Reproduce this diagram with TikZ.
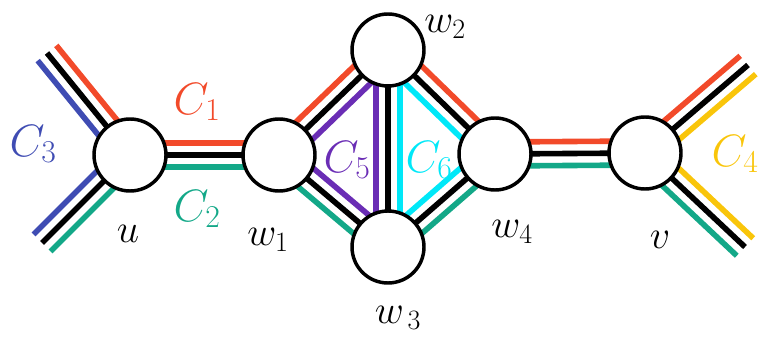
\RequirePackage{fix-cm}
\documentclass[tikz,border=0pt]{standalone}
\usepackage{tikz}
\usetikzlibrary{calc, backgrounds}
\definecolor{PathRed}{HTML}{F24A2A}
\definecolor{PathGreen}{HTML}{13A888}
\definecolor{PathBlue}{HTML}{3F4CB3}
\definecolor{PathPurple}{HTML}{6A2DB5}
\definecolor{PathCyan}{HTML}{00E8F8}
\definecolor{PathYellow}{HTML}{F9C50A}
\tikzset{
  vertex/.style={draw=black,fill=white,circle,line width=2.6pt,minimum size=54pt,inner sep=0pt},
  band/.style={line width=4.2pt},
  pathlabel/.style={font=\fontsize{34}{34}\selectfont,inner sep=0pt},
  vertexlabel/.style={font=\fontsize{30}{30}\selectfont,inner sep=0pt},
}
% three parallel strands: #1 -> #2, #3 on the left, #4 on the right
\newcommand{\strands}[4]{%
  \draw[band,#3] ($(#1.center)!9pt!90:(#2.center)$) -- ($(#2.center)!9pt!-90:(#1.center)$);
  \draw[band,black] (#1.center) -- (#2.center);
  \draw[band,#4] ($(#1.center)!9pt!-90:(#2.center)$) -- ($(#2.center)!9pt!90:(#1.center)$);
}

\begin{document}
\begin{tikzpicture}[x=0.75pt,y=-0.75pt]
\useasboundingbox (0,0) rectangle (759,338);
% vertices
\node[vertex] (u) at (130,155) {};
\node[vertex] (w1) at (279,155) {};
\node[vertex] (w2) at (388,50) {};
\node[vertex] (w3) at (388,247) {};
\node[vertex] (w4) at (495,154) {};
\node[vertex] (v) at (645,153) {};
% loose ends
\coordinate (ul) at (47,53);
\coordinate (dl) at (42,243);
\coordinate (ur) at (748,65);
\coordinate (dr) at (745,247);
% strands behind the circles
\begin{scope}[on background layer]
\strands{u}{ul}{PathBlue}{PathRed}
\strands{u}{dl}{PathGreen}{PathBlue}
\strands{u}{w1}{PathRed}{PathGreen}
\strands{w1}{w2}{PathRed}{PathPurple}
\strands{w1}{w3}{PathPurple}{PathGreen}
\strands{w2}{w3}{PathCyan}{PathPurple}
\strands{w2}{w4}{PathRed}{PathCyan}
\strands{w3}{w4}{PathCyan}{PathGreen}
\strands{w4}{v}{PathRed}{PathGreen}
\strands{v}{ur}{PathRed}{PathYellow}
\strands{v}{dr}{PathYellow}{PathGreen}
\end{scope}
% path labels
\node[pathlabel,text=PathRed] (c1) at (197,102) {$C_1$};
\node[pathlabel,text=PathGreen] (c2) at (197,209) {$C_2$};
\node[pathlabel,text=PathBlue] (c3) at (33,144) {$C_3$};
\node[pathlabel,text=PathYellow] (c4) at (735,154) {$C_4$};
\node[pathlabel,text=PathPurple] (c5) at (347,160) {$C_5$};
\node[pathlabel,text=PathCyan] (c6) at (429,160) {$C_6$};
% vertex labels
\node[vertexlabel] (lu) at (128,234) {$u$};
\node[vertexlabel] (lw1) at (268,240) {$w_1$};
\node[vertexlabel] (lw2) at (445,27) {$w_2$};
\node[vertexlabel] (lw3) at (398,318) {$w_{\,3}$};
\node[vertexlabel] (lw4) at (512,232) {$w_4$};
\node[vertexlabel] (lv) at (660,240) {$v$};
\end{tikzpicture}
\end{document}
